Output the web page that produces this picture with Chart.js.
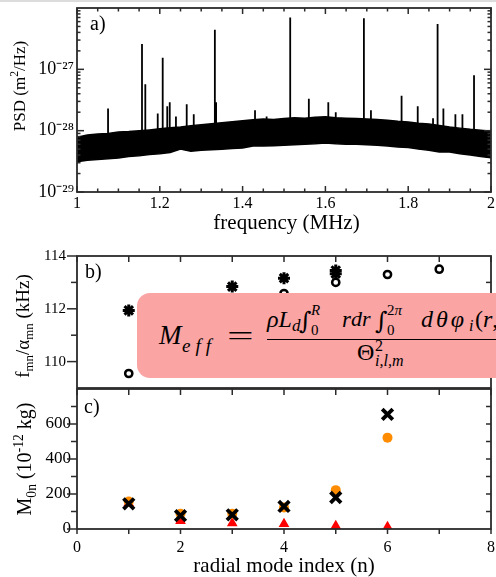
<!DOCTYPE html>
<html>
<head>
<meta charset="utf-8">
<script src="https://cdn.jsdelivr.net/npm/chart.js@4.4.1/dist/chart.umd.min.js"></script>
<style>
  html, body { margin: 0; padding: 0; background: #fff; }
  body { width: 496px; height: 577px; overflow: hidden; position: relative;
         font-family: "Liberation Serif", "Times New Roman", serif; color: #000; }
  .topline { position: absolute; left: 0; top: 0; width: 496px; height: 2px; background: #dcdcdc; }
  .pane { position: absolute; left: 0; width: 496px; }
  .txt { position: absolute; white-space: nowrap; line-height: 1; }
  .txt sub, .txt sup { font-size: 68%; line-height: 0; }
  .rot { transform: translate(-50%, -50%) rotate(-90deg); }
  .ctr { transform: translateX(-50%); }
  .it { font-style: italic; }
  .int { font-family: "DejaVu Serif", serif; }
  #mbox { position: absolute; left: 137px; top: 293px; width: 380px; height: 85px;
          border-radius: 13px; background: rgb(250, 164, 164); }
  .bar { position: absolute; background: #000; }
</style>
</head>
<body>
<div class="topline"></div>
<div class="pane" style="top:0;height:240px"><canvas id="psd"></canvas></div>
<div class="pane" style="top:240px;height:150px"><canvas id="ratio"></canvas></div>
<div class="pane" style="top:385px;height:192px"><canvas id="mass"></canvas></div>

<!-- panel letters -->
<div class="txt" style="left:90px;top:12.5px;font-size:20px">a)</div>
<div class="txt" style="left:85px;top:261px;font-size:20px">b)</div>
<div class="txt" style="left:84px;top:396px;font-size:20px">c)</div>

<!-- axis titles -->
<div class="txt rot" style="left:18.5px;top:86px;font-size:17px">PSD (m<sup>2</sup>/Hz)</div>
<div class="txt ctr" style="left:286.5px;top:212px;font-size:21px">frequency (MHz)</div>
<div class="txt rot" style="left:22px;top:326px;font-size:19px">f<sub>mn</sub>/α<sub>mn</sub> (kHz)</div>
<div class="txt rot" style="left:24px;top:459px;font-size:20px">M<sub>0n</sub> (10<sup>-12</sup> kg)</div>
<div class="txt ctr" style="left:284px;top:555px;font-size:21px">radial mode index (n)</div>

<!-- effective mass expression -->
<div id="mbox"></div>
<div class="txt it" style="left:159px;top:322.4px;font-size:27px">M</div>
<div class="txt it" style="left:182px;top:336px;font-size:19px;letter-spacing:5px">eff</div>
<div class="txt" style="left:227px;top:323.1px;font-size:27px;transform:scaleX(1.75);transform-origin:0 50%">=</div>
<div class="txt it" style="left:267px;top:306.9px;font-size:24px">ρL</div>
<div class="txt it" style="left:292px;top:316.8px;font-size:17px">d</div>
<div class="txt int" style="left:299px;top:309px;font-size:24px">∫</div>
<div class="txt" style="left:311px;top:322.6px;font-size:15px">0</div>
<div class="txt it" style="left:311px;top:303.4px;font-size:15px">R</div>
<div class="txt it" style="left:342px;top:307.6px;font-size:23px">r</div>
<div class="txt it" style="left:351px;top:307.6px;font-size:22px">dr</div>
<div class="txt int" style="left:375px;top:309px;font-size:24px">∫</div>
<div class="txt" style="left:387px;top:322.6px;font-size:15px">0</div>
<div class="txt" style="left:387px;top:303.4px;font-size:15px">2<span class="it">π</span></div>
<div class="txt it" style="left:421px;top:306.9px;font-size:24px;letter-spacing:3px">dθφ</div>
<div class="txt it" style="left:469px;top:317.6px;font-size:16px">i</div>
<div class="txt" style="left:475px;top:306.9px;font-size:24px">(<span class="it">r</span>,<span class="it">θ</span>)</div>
<div class="bar" style="left:267px;top:338.5px;width:240px;height:1.3px"></div>
<div class="txt" style="left:357px;top:339.9px;font-size:24px">Θ</div>
<div class="txt" style="left:375px;top:338.4px;font-size:16px">2</div>
<div class="txt it" style="left:375px;top:352.6px;font-size:16px">i,l,m</div>

<script>
// ---------- panel a: displacement noise spectrum ----------
const envFreq = [1.000, 1.025, 1.050, 1.075, 1.100, 1.125, 1.150, 1.175, 1.200, 1.225,
                 1.250, 1.275, 1.300, 1.325, 1.350, 1.375, 1.400, 1.425, 1.450, 1.475,
                 1.500, 1.525, 1.550, 1.575, 1.600, 1.625, 1.650, 1.675, 1.700, 1.725,
                 1.750, 1.775, 1.800, 1.825, 1.850, 1.875, 1.900, 1.925, 1.950, 1.975, 2.000];
// upper and lower edge of the noise band (m^2/Hz)
const envUpper = [7.8e-29, 8.5e-29, 8.8e-29, 9.0e-29, 9.5e-29, 9.7e-29, 1.00e-28, 1.03e-28, 1.07e-28, 1.12e-28,
                  1.15e-28, 1.20e-28, 1.25e-28, 1.30e-28, 1.35e-28, 1.40e-28, 1.45e-28, 1.50e-28, 1.55e-28, 1.52e-28,
                  1.58e-28, 1.62e-28, 1.60e-28, 1.65e-28, 1.68e-28, 1.62e-28, 1.60e-28, 1.58e-28, 1.55e-28, 1.52e-28,
                  1.48e-28, 1.42e-28, 1.38e-28, 1.32e-28, 1.28e-28, 1.22e-28, 1.15e-28, 1.10e-28, 1.05e-28, 1.02e-28, 9.8e-29];
const envLower = [3.1e-29, 3.3e-29, 3.4e-29, 3.5e-29, 3.6e-29, 3.8e-29, 3.9e-29, 4.1e-29, 4.2e-29, 4.4e-29,
                  5.0e-29, 4.6e-29, 4.8e-29, 4.9e-29, 5.0e-29, 5.1e-29, 5.2e-29, 5.6e-29, 5.6e-29, 5.7e-29,
                  5.8e-29, 5.9e-29, 6.0e-29, 6.1e-29, 6.3e-29, 6.1e-29, 6.0e-29, 6.0e-29, 5.9e-29, 5.8e-29,
                  5.6e-29, 5.4e-29, 5.3e-29, 5.0e-29, 4.8e-29, 4.5e-29, 4.5e-29, 4.2e-29, 4.0e-29, 3.8e-29, 3.6e-29];
// resonance peaks: frequency (MHz) and peak PSD (m^2/Hz)
const spikeFreq = [1.075, 1.157, 1.165, 1.195, 1.207, 1.218, 1.224, 1.239, 1.265, 1.282,
                   1.333, 1.336, 1.430, 1.458, 1.515, 1.560, 1.607, 1.625, 1.693, 1.710,
                   1.784, 1.823, 1.860, 1.871, 1.885, 1.914, 1.931, 1.959];
const spikePeak = [2.3e-28, 2.6e-27, 5.7e-28, 1.9e-28, 1.55e-27, 2.5e-28, 2.9e-28, 1.7e-28, 2.7e-28, 1.85e-28,
                   4.4e-27, 2.9e-28, 2.15e-28, 1.7e-28, 7.0e-27, 3.3e-28, 2.9e-28, 2.0e-28, 6.8e-27, 2.15e-28,
                   3.7e-28, 2.5e-28, 1.6e-28, 5.5e-27, 2.3e-28, 1.85e-28, 1.85e-28, 8.0e-28];
const spikeBase = 7e-29;
const psdTicks = [1e-29, 1e-28, 1e-27];
const freqTicks = [1, 1.2, 1.4, 1.6, 1.8, 2];

// ---------- panel b: f_mn / alpha_mn ----------
const modesB = [1, 2, 3, 4, 5, 6, 7];
const ratioStar = [111.94, 112.2, 112.84, 113.16, 113.45, null, null];
const ratioStarB = [null, null, null, null, 113.33, null, null];
const ratioCircle = [109.55, 111.3, 112.1, 112.58, 113.0, 113.3, 113.5];
const ratioTicks = [110, 112, 114];

// ---------- panel c: modal mass M_0n ----------
const modesC = [1, 2, 3, 4, 5, 6];
const massOrange = [157, 87, 87, 123, 222, 522];
const massCross = [144, 76, 81, 129, 180, 655];
const massTriangle = [148, 47, 33, 29, 18, 12];
const massTicks = [0, 200, 400, 600];
const modeTicks = [0, 2, 4, 6, 8];

Chart.defaults.font.family = '"Liberation Serif", "Times New Roman", serif';
Chart.defaults.color = '#000';
Chart.defaults.animation = false;

const SUP = {'-': '\u207B', '0': '\u2070', '1': '\u00B9', '2': '\u00B2', '3': '\u00B3', '4': '\u2074',
             '5': '\u2075', '6': '\u2076', '7': '\u2077', '8': '\u2078', '9': '\u2079'};
const powLabel = v => '10' + String(Math.round(Math.log10(v))).split('').map(c => SUP[c]).join('');

// frame around the plot area plus tick marks on each side
const framePlugin = {
  id: 'frame',
  afterDatasetsDraw(chart, args, opts) {
    const { ctx, chartArea: a } = chart;
    ctx.save();
    ctx.strokeStyle = '#2b2b2b';
    ctx.lineWidth = 1.5;
    (opts.marks || []).forEach(m => {
      const sc = chart.scales[m.axis];
      const s = m.dir === 'in' ? -1 : 1;
      m.values.forEach(v => {
        const p = sc.getPixelForValue(v);
        ctx.beginPath();
        if (m.side === 'bottom') { ctx.moveTo(p, a.bottom); ctx.lineTo(p, a.bottom + s * m.len); }
        if (m.side === 'top') { ctx.moveTo(p, a.top); ctx.lineTo(p, a.top - s * m.len); }
        if (m.side === 'left') { ctx.moveTo(a.left, p); ctx.lineTo(a.left - s * m.len, p); }
        if (m.side === 'right') { ctx.moveTo(a.right, p); ctx.lineTo(a.right + s * m.len, p); }
        ctx.stroke();
      });
    });
    ctx.lineWidth = 1.8;
    ctx.strokeRect(a.left, a.top, a.right - a.left, a.bottom - a.top);
    ctx.restore();
  }
};

const range = (a, b, st) => { const r = []; for (let v = a; v <= b + 1e-9; v += st) r.push(+v.toFixed(4)); return r; };
const logMinor = [];
for (let e = -29; e < -26; e++) for (let k = 2; k <= 9; k++) logMinor.push(k * Math.pow(10, e));
const xMinorA = range(1, 2, 0.05).filter(v => Math.abs(v * 5 - Math.round(v * 5)) > 1e-6);

// fixed axis sizes so the three plot areas share the same edges
const fixY = s => { s.width = 77; s.paddingTop = 0; s.paddingBottom = 0; };
const fixX = s => { s.height = 48; s.paddingLeft = 0; s.paddingRight = 0; };
const noGrid = { display: false, drawTicks: false };

// ----- panel a chart -----
const spikeData = [];
spikeFreq.forEach((f, i) => {
  spikeData.push({ x: f, y: spikeBase }, { x: f, y: spikePeak[i] }, { x: f, y: null });
});

new Chart(document.getElementById('psd'), {
  type: 'line',
  data: {
    datasets: [
      { data: envFreq.map((f, i) => ({ x: f, y: envUpper[i] })), borderColor: '#000', backgroundColor: '#000',
        borderWidth: 1.5, pointRadius: 0, fill: '+1' },
      { data: envFreq.map((f, i) => ({ x: f, y: envLower[i] })), borderColor: '#000', borderWidth: 1.5,
        pointRadius: 0, fill: false },
      { data: spikeData, borderColor: '#000', borderWidth: 1.8, pointRadius: 0, fill: false, spanGaps: false }
    ]
  },
  options: {
    responsive: true, maintainAspectRatio: false,
    layout: { autoPadding: false, padding: { top: 8, right: 5, left: 0, bottom: 0 } },
    plugins: {
      legend: { display: false }, tooltip: { enabled: false },
      frame: { marks: [
        { axis: 'x', side: 'bottom', dir: 'in', len: 6, values: freqTicks },
        { axis: 'x', side: 'bottom', dir: 'in', len: 3.5, values: xMinorA },
        { axis: 'x', side: 'top', dir: 'in', len: 6, values: freqTicks },
        { axis: 'x', side: 'top', dir: 'in', len: 3.5, values: xMinorA },
        { axis: 'y', side: 'left', dir: 'in', len: 7, values: psdTicks },
        { axis: 'y', side: 'left', dir: 'in', len: 3.5, values: logMinor },
        { axis: 'y', side: 'right', dir: 'in', len: 7, values: psdTicks },
        { axis: 'y', side: 'right', dir: 'in', len: 3.5, values: logMinor }
      ] }
    },
    scales: {
      x: { type: 'linear', min: 1, max: 2, grid: noGrid, border: { display: false },
           afterBuildTicks: s => { s.ticks = freqTicks.map(v => ({ value: v })); },
           afterFit: fixX,
           ticks: { autoSkip: false, maxRotation: 0, padding: 2, font: { size: 16 },
                    callback: v => (v === 1 || v === 2) ? String(v) : v.toFixed(1) } },
      y: { type: 'logarithmic', min: 1e-29, max: 1e-26, grid: noGrid, border: { display: false },
           afterBuildTicks: s => { s.ticks = psdTicks.map(v => ({ value: v })); },
           afterFit: fixY,
           ticks: { padding: 3, font: { size: 18 }, callback: v => powLabel(v) } }
    }
  },
  plugins: [framePlugin]
});

// ----- panel b chart -----
const intTicks = range(0, 8, 1);
new Chart(document.getElementById('ratio'), {
  type: 'scatter',
  data: {
    datasets: [
      { data: modesB.map((n, i) => ({ x: n, y: ratioStar[i] })), pointStyle: 'star', radius: 6,
        borderWidth: 3, borderColor: '#000', backgroundColor: '#000' },
      { data: modesB.map((n, i) => ({ x: n, y: ratioStarB[i] })), pointStyle: 'star', radius: 6,
        borderWidth: 3, borderColor: '#000', backgroundColor: '#000' },
      { data: modesB.map((n, i) => ({ x: n, y: ratioCircle[i] })), pointStyle: 'circle', radius: 3.6,
        borderWidth: 2.5, borderColor: '#000', backgroundColor: 'rgba(0,0,0,0)' }
    ]
  },
  options: {
    responsive: true, maintainAspectRatio: false,
    layout: { autoPadding: false, padding: { top: 16, right: 5, left: 0, bottom: 2 } },
    plugins: {
      legend: { display: false }, tooltip: { enabled: false },
      frame: { marks: [
        { axis: 'x', side: 'top', dir: 'in', len: 6, values: intTicks },
        { axis: 'y', side: 'left', dir: 'out', len: 10, values: ratioTicks },
        { axis: 'y', side: 'left', dir: 'out', len: 6, values: [111, 113] },
        { axis: 'y', side: 'right', dir: 'in', len: 5, values: [110, 111, 112, 113] }
      ] }
    },
    scales: {
      x: { type: 'linear', min: 0, max: 8, display: false },
      y: { type: 'linear', min: 109, max: 114, grid: noGrid, border: { display: false },
           afterBuildTicks: s => { s.ticks = ratioTicks.map(v => ({ value: v })); },
           afterFit: fixY,
           ticks: { padding: 11, font: { size: 15 } } }
    }
  },
  plugins: [framePlugin]
});

// ----- panel c chart -----
new Chart(document.getElementById('mass'), {
  type: 'scatter',
  data: {
    datasets: [
      { data: modesC.map((n, i) => ({ x: n, y: massTriangle[i] })), pointStyle: 'triangle', radius: 6.2,
        borderWidth: 0, backgroundColor: '#ff0000', borderColor: '#ff0000', order: 3 },
      { data: modesC.map((n, i) => ({ x: n, y: massOrange[i] })), pointStyle: 'circle', radius: 5,
        borderWidth: 0, backgroundColor: '#ff8c00', borderColor: '#ff8c00', order: 2 },
      { data: modesC.map((n, i) => ({ x: n, y: massCross[i] })), pointStyle: 'crossRot', radius: 7.5,
        borderWidth: 3.8, borderColor: '#000', backgroundColor: '#000', order: 1 }
    ]
  },
  options: {
    responsive: true, maintainAspectRatio: false,
    layout: { autoPadding: false, padding: { top: 4, right: 5, left: 0, bottom: 0 } },
    plugins: {
      legend: { display: false }, tooltip: { enabled: false },
      frame: { marks: [
        { axis: 'x', side: 'top', dir: 'in', len: 6, values: intTicks },
        { axis: 'x', side: 'bottom', dir: 'out', len: 5, values: intTicks },
        { axis: 'y', side: 'left', dir: 'out', len: 10, values: massTicks },
        { axis: 'y', side: 'left', dir: 'out', len: 6, values: [100, 300, 500, 700] },
        { axis: 'y', side: 'right', dir: 'in', len: 5, values: range(100, 700, 100) }
      ] }
    },
    scales: {
      x: { type: 'linear', min: 0, max: 8, grid: noGrid, border: { display: false },
           afterBuildTicks: s => { s.ticks = modeTicks.map(v => ({ value: v })); },
           afterFit: fixX,
           ticks: { autoSkip: false, maxRotation: 0, padding: 9, font: { size: 16 } } },
      y: { type: 'linear', min: 0, max: 800, grid: noGrid, border: { display: false },
           afterBuildTicks: s => { s.ticks = massTicks.map(v => ({ value: v })); },
           afterFit: fixY,
           ticks: { padding: 6, font: { size: 17 } } }
    }
  },
  plugins: [framePlugin]
});
</script>
</body>
</html>
